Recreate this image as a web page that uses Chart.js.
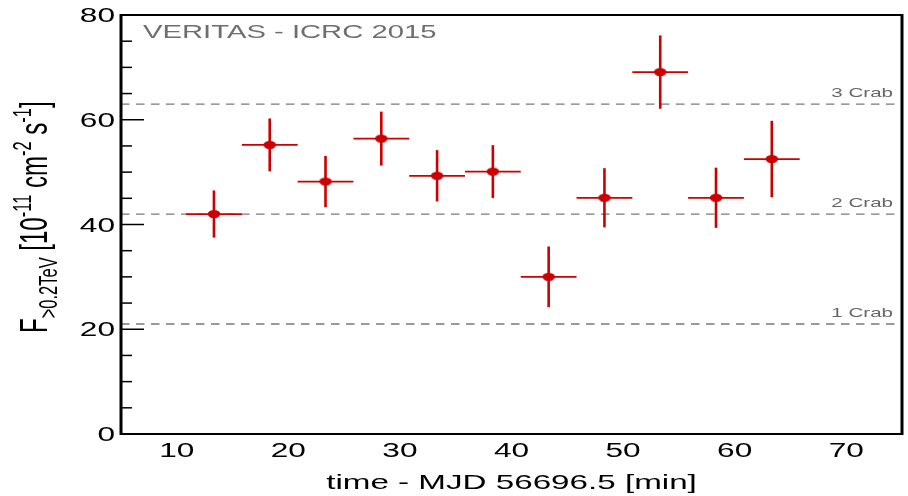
<!DOCTYPE html>
<html>
<head>
<meta charset="utf-8">
<script src="https://cdn.jsdelivr.net/npm/chart.js@4/dist/chart.umd.min.js"></script>
<style>
  html, body { margin: 0; padding: 0; background: #fff; }
  #wrap { width: 908px; height: 496px; }
</style>
</head>
<body>
<div id="wrap"><canvas id="lc" width="908" height="496"></canvas></div>
<script>
// Light curve: VERITAS, 5-min bins
const timeMin  = [13.33, 18.33, 23.33, 28.33, 33.33, 38.33, 43.33, 48.33, 53.33, 58.33, 63.33];
const timeErr  = [2.5, 2.5, 2.5, 2.5, 2.5, 2.5, 2.5, 2.5, 2.5, 2.5, 2.5];
const flux     = [42.0, 55.2, 48.2, 56.4, 49.3, 50.1, 30.0, 45.1, 69.1, 45.1, 52.5];
const fluxErr  = [4.5, 5.05, 4.9, 5.15, 4.9, 5.05, 5.8, 5.65, 7.0, 5.75, 7.3];

const crabLevels = [21, 42, 63];
const crabLabels = ['1 Crab', '2 Crab', '3 Crab'];

const xTickLabels = [10, 20, 30, 40, 50, 60, 70];
const yTickLabels = [0, 20, 40, 60, 80];

const xRange = [5, 75];
const yRange = [0, 80];

const RED = '#cc0000';
const FONT = '"Liberation Sans", Arial, Helvetica, sans-serif';
const SX = 1.58; // the reference is stretched sideways

// marker: filled ellipse (stretched circle)
const marker = document.createElement('canvas');
marker.width = 14; marker.height = 10;
(() => {
  const m = marker.getContext('2d');
  m.fillStyle = RED;
  m.beginPath();
  m.ellipse(7, 5, 6.2, 4.1, 0, 0, Math.PI * 2);
  m.fill();
})();

function wideText(ctx, txt, x, y, size, color, align) {
  ctx.save();
  ctx.font = size + 'px ' + FONT;
  ctx.fillStyle = color;
  ctx.textBaseline = 'alphabetic';
  ctx.textAlign = 'left';
  const w = ctx.measureText(txt).width * SX;
  const x0 = align === 'right' ? x - w : align === 'center' ? x - w / 2 : x;
  ctx.translate(x0, y);
  ctx.scale(SX, 1);
  ctx.fillText(txt, 0, 0);
  ctx.restore();
}

const errorBars = {
  id: 'errorBars',
  beforeDatasetDraw(chart, args) {
    if (args.index !== 0) return;
    const { ctx, scales: { x, y } } = chart;
    ctx.save();
    ctx.strokeStyle = RED;
    timeMin.forEach((t, i) => {
      const px = x.getPixelForValue(t);
      const py = y.getPixelForValue(flux[i]);
      ctx.lineWidth = 1.8;
      ctx.beginPath();
      ctx.moveTo(x.getPixelForValue(t - timeErr[i]), py);
      ctx.lineTo(x.getPixelForValue(t + timeErr[i]), py);
      ctx.stroke();
      ctx.lineWidth = 2.6;
      ctx.beginPath();
      ctx.moveTo(px, y.getPixelForValue(flux[i] - fluxErr[i]));
      ctx.lineTo(px, y.getPixelForValue(flux[i] + fluxErr[i]));
      ctx.stroke();
    });
    ctx.restore();
  }
};

const frameAndText = {
  id: 'frameAndText',
  afterDraw(chart) {
    const { ctx, chartArea: a, scales: { x, y } } = chart;
    ctx.save();
    ctx.strokeStyle = '#000';

    // ticks, inside the frame
    ctx.lineWidth = 1.5;
    y.ticks.forEach(tk => {
      const py = y.getPixelForValue(tk.value);
      const len = tk.value % 20 === 0 ? 23 : 11;
      ctx.beginPath(); ctx.moveTo(a.left, py); ctx.lineTo(a.left + len, py); ctx.stroke();
    });
    ctx.lineWidth = 2.2;
    x.ticks.forEach(tk => {
      if (tk.value % 2 !== 0) return;
      const px = x.getPixelForValue(tk.value);
      const len = tk.value % 10 === 0 ? 13 : 7;
      ctx.beginPath(); ctx.moveTo(px, a.bottom); ctx.lineTo(px, a.bottom - len); ctx.stroke();
    });

    // frame
    ctx.lineWidth = 2;
    ctx.beginPath();
    ctx.moveTo(a.left, a.top); ctx.lineTo(a.right, a.top);
    ctx.moveTo(a.left, a.bottom); ctx.lineTo(a.right, a.bottom);
    ctx.stroke();
    ctx.lineWidth = 3;
    ctx.beginPath();
    ctx.moveTo(a.left, a.top - 1); ctx.lineTo(a.left, a.bottom + 1);
    ctx.moveTo(a.right, a.top - 1); ctx.lineTo(a.right, a.bottom + 1);
    ctx.stroke();
    ctx.restore();

    // tick labels
    yTickLabels.forEach(v => wideText(ctx, String(v), a.left - 6, y.getPixelForValue(v) + 7, 20, '#000', 'right'));
    xTickLabels.forEach(v => wideText(ctx, String(v), x.getPixelForValue(v), a.bottom + 23, 20, '#000', 'center'));

    // axis title x
    wideText(ctx, 'time - MJD 56696.5 [min]', (a.left + a.right) / 2, 489, 21, '#000', 'center');

    // crab reference labels
    crabLevels.forEach((lv, i) => wideText(ctx, crabLabels[i], a.right - 9, y.getPixelForValue(lv) - 7, 13, '#666', 'right'));

    // label in plot
    wideText(ctx, 'VERITAS - ICRC 2015', 143, 38, 18.5, '#6e6e6e', 'left');

    // axis title y with sub/superscripts
    const parts = [
      ['F', 'n'], ['>0.2TeV', 'sub'], [' [10', 'n'], ['-11', 'sup'],
      [' cm', 'n'], ['-2', 'sup'], [' s', 'n'], ['-1', 'sup'], [']', 'n']
    ];
    ctx.save();
    ctx.translate(47, 333);
    ctx.scale(SX, 1);
    ctx.rotate(-Math.PI / 2);
    ctx.fillStyle = '#000';
    ctx.textBaseline = 'alphabetic';
    let cx = 0;
    parts.forEach(([t, k]) => {
      const size = k === 'n' ? 24 : 16.5;
      ctx.font = size + 'px ' + FONT;
      const dy = k === 'sub' ? 6.5 : k === 'sup' ? -10 : 0;
      ctx.fillText(t, cx, dy);
      cx += ctx.measureText(t).width;
    });
    ctx.restore();
  }
};

const datasets = [{
  type: 'scatter',
  data: timeMin.map((t, i) => ({ x: t, y: flux[i] })),
  pointStyle: marker,
  pointRadius: 5,
  pointHoverRadius: 5
}];
crabLevels.forEach(lv => {
  datasets.push({
    type: 'line',
    data: [{ x: xRange[0], y: lv }, { x: xRange[1], y: lv }],
    borderColor: '#7a7a7a',
    borderWidth: 1.3,
    borderDash: [8.5, 6.5],
    pointRadius: 0,
    fill: false
  });
});

new Chart(document.getElementById('lc'), {
  data: { datasets },
  plugins: [errorBars, frameAndText],
  options: {
    responsive: false,
    animation: false,
    events: [],
    layout: { padding: { left: 0, right: 3, top: 15, bottom: 0 } },
    plugins: { legend: { display: false }, tooltip: { enabled: false } },
    scales: {
      x: {
        type: 'linear', min: xRange[0], max: xRange[1],
        ticks: { display: false, stepSize: 2 },
        grid: { display: false }, border: { display: false },
        afterFit: s => { s.height = 62; }
      },
      y: {
        type: 'linear', min: yRange[0], max: yRange[1],
        ticks: { display: false, stepSize: 5 },
        grid: { display: false }, border: { display: false },
        afterFit: s => { s.width = 121; }
      }
    }
  }
});
</script>
</body>
</html>
